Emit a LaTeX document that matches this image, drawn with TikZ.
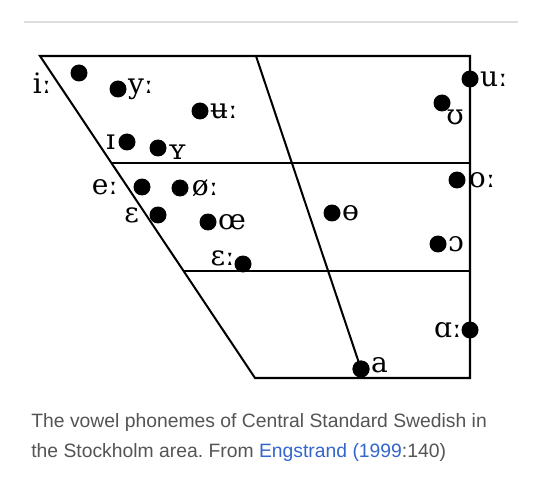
\documentclass[tikz,border=0pt]{standalone}
\usepackage{fontspec}
\setmainfont{DejaVu Serif}
\newfontfamily\capfont{Liberation Sans}
\usetikzlibrary{positioning,calc}
\definecolor{capgray}{RGB}{84,84,84}
\definecolor{linkblue}{RGB}{51,102,204}
\definecolor{rulegray}{RGB}{221,221,221}
\frenchspacing
\tikzset{
  vdot/.style={circle,fill=black,inner sep=0pt,minimum size=0.34cm},
  vlabel/.style={inner sep=0.5pt,font=\fontsize{16}{16}\selectfont},
  chartline/.style={line width=1.15pt,line join=miter},
  captext/.style={anchor=base west,inner sep=0pt,text=capgray,font=\capfont\fontsize{11}{13}\selectfont}
}

\begin{document}
\begin{tikzpicture}[x=0.02cm,y=-0.02cm,node distance=1pt]
  \useasboundingbox (0,0) rectangle (540,479);
  \draw[rulegray,line width=0.6pt] (24,22) -- (518,22);

  % frame of the chart
  \coordinate (tl) at (40,56);
  \coordinate (tr) at (470,56);
  \coordinate (br) at (470,378);
  \coordinate (bl) at (255,378);
  \coordinate (tm) at (256,56);
  \draw[chartline] (tl) -- (tr) -- (br) -- (bl) -- cycle;
  \draw[chartline] ($(tl)!1/3!(bl)$) -- ($(tr)!1/3!(br)$);
  \draw[chartline] ($(tl)!2/3!(bl)$) -- ($(tr)!2/3!(br)$);

  % vowels
  \node[vdot] (i)  at (79,73)   {};
  \node[vdot] (y)  at (118,89)  {};
  \node[vdot] (uu) at (200,111) {};
  \node[vdot] (I)  at (127,142) {};
  \node[vdot] (Y)  at (158,148) {};
  \node[vdot] (u)  at (470,79)  {};
  \node[vdot] (U)  at (442,103) {};
  \node[vdot] (e)  at (142,187) {};
  \node[vdot] (oe) at (180,188) {};
  \node[vdot] (E)  at (158,215) {};
  \node[vdot] (OE) at (208,222) {};
  \node[vdot] (EE) at (243,264) {};
  \node[vdot] (o)  at (457,180) {};
  \node[vdot] (th) at (332,213) {};
  \node[vdot] (O)  at (438,244) {};
  \node[vdot] (A)  at (470,330) {};
  \node[vdot] (a)  at (361,369) {};
  \draw[chartline] (tm) -- (a.center);
  \node[vdot] at (a) {};

  \node[vlabel] (li)  at (42,83) {iː};
  \node[vlabel,right=0pt of y]  (ly)  {yː};
  \node[vlabel,right=0pt of uu] (luu) {ʉː};
  \node[vlabel,left=1pt of I]   (lI)  {ɪ};
  \node[vlabel,right=0pt of Y,yshift=-0.08cm] (lY) {ʏ};
  \node[vlabel,right=0pt of u]  (lu)  {uː};
  \node[vlabel,below right=-0.02cm and -0.06cm of U] (lU) {ʊ};
  \node[vlabel,left=0.28cm of e] (le)  {eː};
  \node[vlabel,right=1pt of oe] (loe) {øː};
  \node[vlabel,left=0.18cm of E] (lE)  {ɛ};
  \node[vlabel,right=0pt of OE] (lOE) {œ};
  \node[vlabel,left=-1pt of EE,yshift=0.12cm] (lEE) {ɛː};
  \node[vlabel,right=1pt of o]  (lo)  {oː};
  \node[vlabel,right=0pt of th] (lth) {ɵ};
  \node[vlabel,right=0pt of O]  (lO)  {ɔ};
  \node[vlabel,left=-1pt of A]   (lA)  {ɑː};
  \node[vlabel,right=0pt of a,yshift=0.08cm] (la) {a};

  % caption
  \node[captext] (cap1) at (31,427) {The vowel phonemes of Central Standard Swedish in};
  \node[captext] (cap2) at (31,457) {the Stockholm area. From \textcolor{linkblue}{Engstrand (1999}:140)};
\end{tikzpicture}
\end{document}
